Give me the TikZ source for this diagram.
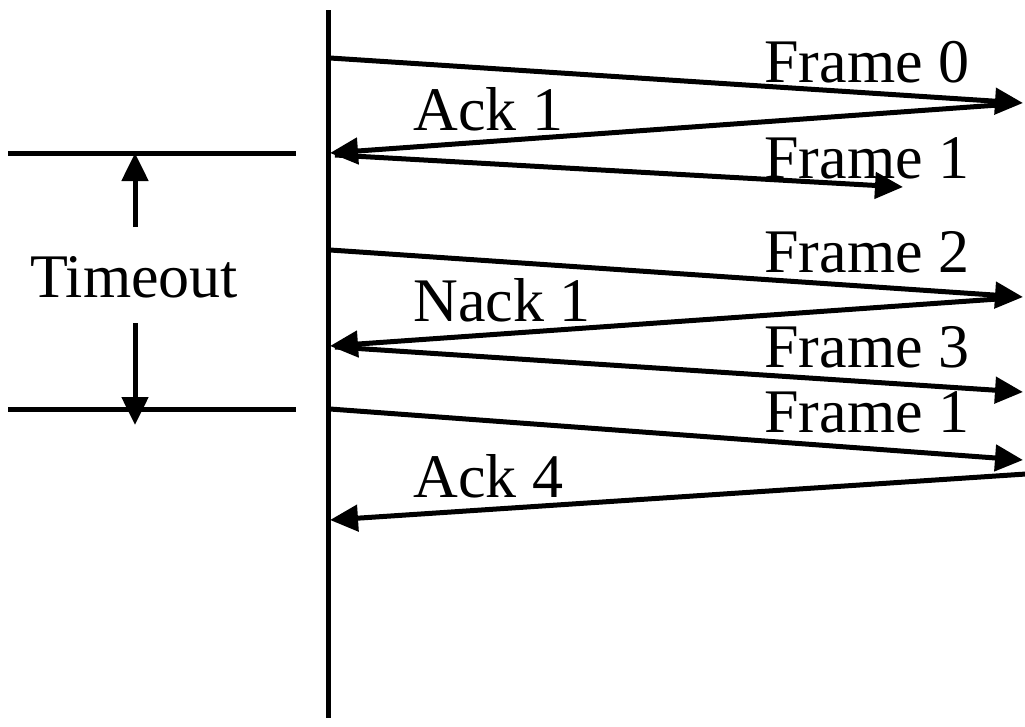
\documentclass[tikz,border=0pt]{standalone}
\usepackage{fontspec}
\setmainfont{Liberation Serif}
\usetikzlibrary{arrows.meta}
\begin{document}
\begin{tikzpicture}[x=1pt,y=-1pt,
  line width=5pt,
  msg/.style={-{Triangle[length=28pt,width=26pt]}},
  lbl/.style={anchor=base west,inner sep=0pt,font=\fontsize{62}{66}\selectfont}]
\useasboundingbox (0,0) rectangle (1025,726);

% sender time line
\coordinate (top) at (328,10);
\coordinate (bot) at (328,718);
\draw (top) -- (bot);

% timeout interval
\coordinate (t1a) at (8,153);  \coordinate (t1b) at (296,153);
\coordinate (t2a) at (8,409);  \coordinate (t2b) at (296,409);
\draw (t1a) -- (t1b);
\draw (t2a) -- (t2b);
\node[inner sep=0pt,anchor=base,font=\fontsize{62}{66}\selectfont] (tmo) at (134,297) {Timeout};
\coordinate (upS) at (135,227); \coordinate (upE) at (135,153);
\coordinate (dnS) at (135,323); \coordinate (dnE) at (135,425);
\draw[msg] (upS) -- (upE);
\draw[msg] (dnS) -- (dnE);

% message end points
\coordinate (f0s) at (330,58);   \coordinate (f0e) at (1023,103);
\coordinate (a1s) at (1012,104); \coordinate (a1e) at (330,153);
\coordinate (f1s) at (335,155);  \coordinate (f1e) at (903,187);
\coordinate (f2s) at (330,250);  \coordinate (f2e) at (1023,297);
\coordinate (n1s) at (1012,298); \coordinate (n1e) at (330,346);
\coordinate (f3s) at (335,347);  \coordinate (f3e) at (1023,392);
\coordinate (r1s) at (330,409);  \coordinate (r1e) at (1023,460);
\coordinate (a4s) at (1026,474); \coordinate (a4e) at (330,520);

\draw[msg] (f0s) -- (f0e);
\draw[msg] (a1s) -- (a1e);
\draw[msg] (f1s) -- (f1e);
\draw[msg] (f2s) -- (f2e);
\draw[msg] (n1s) -- (n1e);
\draw[msg] (f3s) -- (f3e);
\draw[msg] (r1s) -- (r1e);
\draw[msg] (a4s) -- (a4e);

% message labels
\node[lbl] (lf0) at (762,82)  {Frame 0};
\node[lbl] (la1) at (411,130) {Ack 1};
\node[lbl] (lf1) at (762,178) {Frame 1};
\node[lbl] (lf2) at (762,272) {Frame 2};
\node[lbl] (ln1) at (411,321) {Nack 1};
\node[lbl] (lf3) at (762,367) {Frame 3};
\node[lbl] (lr1) at (762,432) {Frame 1};
\node[lbl] (la4) at (411,497) {Ack 4};
\end{tikzpicture}
\end{document}
